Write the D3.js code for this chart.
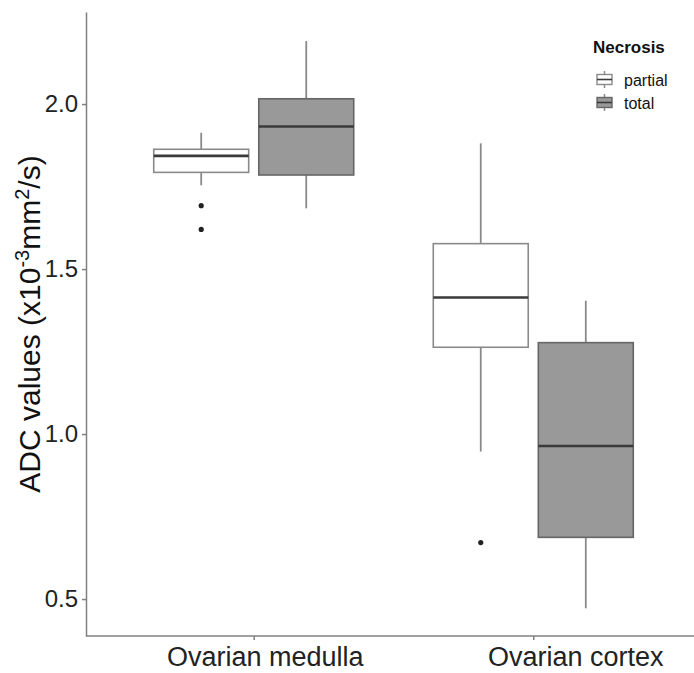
<html>
  <head>
    <meta charset="utf-8">
    <title>ADC boxplot</title>
    <style>
      body { margin: 0; background: #fff; }
      .axis path, .axis line { fill: none; stroke: #808080; stroke-width: 1.5; }
      .axis text { font-family: Arial, "Liberation Sans", sans-serif; fill: #222; }
    </style>
  </head>
  <body>
    <script src="https://cdn.jsdelivr.net/npm/d3@7"></script>
    <script>
    var width = 694, height = 673;

    // data, one entry per box
    var categories = ["Ovarian medulla", "Ovarian cortex"];
    var groups = ["partial", "total"];
    var boxCategory = ["Ovarian medulla", "Ovarian medulla", "Ovarian cortex", "Ovarian cortex"];
    var boxGroup = ["partial", "total", "partial", "total"];
    var whiskerLow = [1.754, 1.684, 0.947, 0.472];
    var q1 = [1.793, 1.785, 1.263, 0.687];
    var median = [1.843, 1.932, 1.414, 0.964];
    var q3 = [1.863, 2.016, 1.577, 1.277];
    var whiskerHigh = [1.913, 2.191, 1.881, 1.404];
    var outliers = [[1.692, 1.620], [], [0.671], []];
    var yTicks = [0.5, 1.0, 1.5, 2.0];

    var fills = { partial: "#ffffff", total: "#999999" };
    var strokes = { partial: "#8a8a8a", total: "#666666" };
    // the category labels sit a bit right of their ticks in the original
    var labelShift = [11, 42];

    var svg = d3.select('body').append('svg')
      .attr('width', width).attr('height', height);

    var mLeft = 86, mRight = 701, mTop = 12, mBottom = 636;

    var x = d3.scalePoint().domain(categories).range([mLeft, mRight]).padding(0.6);
    var inner = d3.scaleBand().domain(groups).range([-100, 100]).paddingInner(0.096);
    var y = d3.scaleLinear().domain([0.388, 2.279]).range([mBottom, mTop]);

    var boxes = boxCategory.map(function(c, i) {
      return { cat: c, grp: boxGroup[i], lo: whiskerLow[i], q1: q1[i], med: median[i],
               q3: q3[i], hi: whiskerHigh[i], out: outliers[i] };
    });

    var g = svg.selectAll('g.box').data(boxes).enter().append('g')
      .attr('class', 'box')
      .attr('transform', function(d) { return 'translate(' + (x(d.cat) + inner(d.grp)) + ',0)'; });
    var bw = inner.bandwidth();

    // whiskers
    g.append('line').attr('x1', bw / 2).attr('x2', bw / 2)
      .attr('y1', function(d) { return y(d.hi); }).attr('y2', function(d) { return y(d.q3); })
      .attr('stroke', '#8a8a8a').attr('stroke-width', 1.8);
    g.append('line').attr('x1', bw / 2).attr('x2', bw / 2)
      .attr('y1', function(d) { return y(d.q1); }).attr('y2', function(d) { return y(d.lo); })
      .attr('stroke', '#8a8a8a').attr('stroke-width', 1.8);

    g.append('rect')
      .attr('x', 0).attr('width', bw)
      .attr('y', function(d) { return y(d.q3); })
      .attr('height', function(d) { return y(d.q1) - y(d.q3); })
      .attr('fill', function(d) { return fills[d.grp]; })
      .attr('stroke', function(d) { return strokes[d.grp]; })
      .attr('stroke-width', 1.6);

    g.append('line').attr('x1', 0).attr('x2', bw)
      .attr('y1', function(d) { return y(d.med); }).attr('y2', function(d) { return y(d.med); })
      .attr('stroke', '#3a3a3a').attr('stroke-width', 2.6);

    g.selectAll('circle').data(function(d) { return d.out; }).enter().append('circle')
      .attr('cx', bw / 2).attr('cy', function(d) { return y(d); })
      .attr('r', 2.6).attr('fill', '#222');

    // axes
    svg.append('g').attr('class', 'axis')
      .attr('transform', 'translate(' + mLeft + ',0)')
      .call(d3.axisLeft(y).tickValues(yTicks).tickFormat(d3.format('.1f'))
        .tickSize(4).tickSizeOuter(0).tickPadding(4))
      .selectAll('text').style('font-size', '24px');

    var xAxis = svg.append('g').attr('class', 'axis')
      .attr('transform', 'translate(0,' + mBottom + ')')
      .call(d3.axisBottom(x).tickSize(4).tickSizeOuter(0).tickPadding(7));
    xAxis.select('.domain').attr('d', 'M' + mLeft + ',0H' + width);
    xAxis.selectAll('text').style('font-size', '27px').attr('fill', '#111')
      .attr('dx', function(d, i) { return labelShift[i]; });

    // y title
    var title = svg.append('text')
      .attr('transform', 'translate(40,' + ((mTop + mBottom) / 2) + ') rotate(-90)')
      .attr('text-anchor', 'middle')
      .style('font-family', 'Arial, "Liberation Sans", sans-serif')
      .style('font-size', '30px').attr('fill', '#111');
    title.append('tspan').text('ADC values (x10');
    title.append('tspan').text('-3').attr('dy', -11).style('font-size', '20px');
    title.append('tspan').text('mm').attr('dy', 11);
    title.append('tspan').text('2').attr('dy', -11).style('font-size', '20px');
    title.append('tspan').text('/s)').attr('dy', 11);

    // legend
    var lg = svg.append('g').attr('transform', 'translate(593,0)')
      .style('font-family', 'Arial, "Liberation Sans", sans-serif');
    lg.append('text').attr('x', 0).attr('y', 53).text('Necrosis')
      .style('font-size', '17px').style('font-weight', 'bold').attr('fill', '#111');
    var key = lg.selectAll('g.key').data(groups).enter().append('g')
      .attr('class', 'key')
      .attr('transform', function(d, i) { return 'translate(4,' + (71 + i * 23) + ')'; });
    key.append('line').attr('x1', 7.5).attr('x2', 7.5).attr('y1', 0).attr('y2', 17)
      .attr('stroke', '#8a8a8a').attr('stroke-width', 1.5);
    key.append('rect').attr('x', 0).attr('y', 3.5).attr('width', 15).attr('height', 10)
      .attr('fill', function(d) { return fills[d]; })
      .attr('stroke', function(d) { return strokes[d]; }).attr('stroke-width', 1.4);
    key.append('line').attr('x1', 0).attr('x2', 15).attr('y1', 8.5).attr('y2', 8.5)
      .attr('stroke', '#3a3a3a').attr('stroke-width', 1.6);
    lg.selectAll('text.lab').data(groups).enter().append('text')
      .attr('class', 'lab')
      .attr('x', 31).attr('y', function(d, i) { return 86 + i * 23; })
      .text(function(d) { return d; })
      .style('font-size', '16px').attr('fill', '#111');
    </script>
  </body>
</html>
